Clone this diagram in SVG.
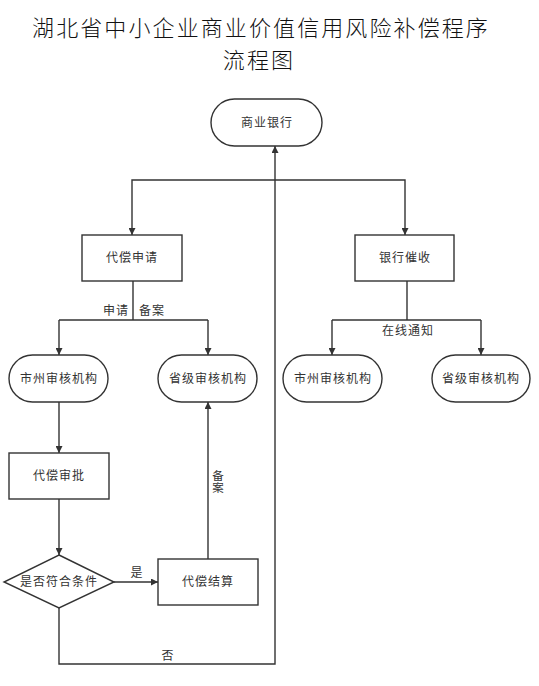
<svg xmlns="http://www.w3.org/2000/svg" width="539" height="686" viewBox="0 0 539 686">
<defs>
<marker id="arr" viewBox="0 0 10 10" refX="10" refY="5" markerWidth="7" markerHeight="7" markerUnits="userSpaceOnUse" orient="auto">
<path d="M0,0 L10,5 L0,10 z" fill="#333"/>
</marker>
<style>
.title{font-family:"Noto Sans CJK SC","Noto Sans",sans-serif;font-size:22px;font-weight:300;fill:#111;letter-spacing:2.1px;text-anchor:middle}
.shape{fill:#fff;stroke:#333;stroke-width:1.4}
.lbl{font-family:"Noto Sans CJK SC","Noto Sans",sans-serif;font-size:12px;fill:#333;letter-spacing:1px;text-anchor:middle}
.vl{font-family:"Noto Sans CJK SC","Noto Sans",sans-serif;font-size:11.5px;fill:#333;writing-mode:vertical-rl;letter-spacing:0}
.edge{fill:none;stroke:#333;stroke-width:1.4}
</style>
</defs>
<rect width="539" height="686" fill="#fff"/>
<text class="title" x="261" y="36">湖北省中小企业商业价值信用风险补偿程序</text>
<text class="title" x="259" y="68">流程图</text>

<g id="connectors">
<path class="edge" d="M275,180 H132 V235" marker-end="url(#arr)"/>
<path class="edge" d="M275,180 H405 V235" marker-end="url(#arr)"/>
<path class="edge" d="M133,281 V320"/>
<path class="edge" d="M59,320 H208"/>
<path class="edge" d="M59,320 V355" marker-end="url(#arr)"/>
<path class="edge" d="M208,320 V355" marker-end="url(#arr)"/>
<path class="edge" d="M407,281 V320"/>
<path class="edge" d="M332,320 H481"/>
<path class="edge" d="M332,320 V355" marker-end="url(#arr)"/>
<path class="edge" d="M481,320 V355" marker-end="url(#arr)"/>
<path class="edge" d="M59,402 V453" marker-end="url(#arr)"/>
<path class="edge" d="M59,499 V555" marker-end="url(#arr)"/>
<path class="edge" d="M114,582 H158" marker-end="url(#arr)"/>
<path class="edge" d="M208,559 V402" marker-end="url(#arr)"/>
<path class="edge" d="M59,608 V664 H275 V146" marker-end="url(#arr)"/>
<text class="lbl" x="116" y="315">申请</text>
<text class="lbl" x="152" y="315">备案</text>
<text class="lbl" x="408" y="335">在线通知</text>
<text class="lbl" x="137" y="577">是</text>
<text class="lbl" x="168" y="660">否</text>
<text class="vl" x="218" y="470">备案</text>
</g>

<g id="bank">
<rect class="shape" x="211" y="99" width="111" height="47" rx="23.5"/>
<text class="lbl" x="267" y="127">商业银行</text>
</g>
<g id="apply">
<rect class="shape" x="82" y="235" width="100" height="46"/>
<text class="lbl" x="132" y="262">代偿申请</text>
</g>
<g id="collect">
<rect class="shape" x="355" y="235" width="99" height="46"/>
<text class="lbl" x="405" y="262">银行催收</text>
</g>
<g id="city1">
<rect class="shape" x="9" y="355" width="99" height="47" rx="23.5"/>
<text class="lbl" x="59" y="383">市州审核机构</text>
</g>
<g id="prov1">
<rect class="shape" x="158" y="355" width="99" height="47" rx="23.5"/>
<text class="lbl" x="208" y="383">省级审核机构</text>
</g>
<g id="city2">
<rect class="shape" x="283" y="355" width="99" height="47" rx="23.5"/>
<text class="lbl" x="333" y="383">市州审核机构</text>
</g>
<g id="prov2">
<rect class="shape" x="432" y="355" width="98" height="47" rx="23.5"/>
<text class="lbl" x="481" y="383">省级审核机构</text>
</g>
<g id="approve">
<rect class="shape" x="9" y="453" width="100" height="46"/>
<text class="lbl" x="59" y="480">代偿审批</text>
</g>
<g id="decision">
<polygon class="shape" points="59,555 114,582 59,608 4,582"/>
<text class="lbl" x="59" y="586">是否符合条件</text>
</g>
<g id="settle">
<rect class="shape" x="158" y="559" width="100" height="46"/>
<text class="lbl" x="208" y="586">代偿结算</text>
</g>
</svg>
